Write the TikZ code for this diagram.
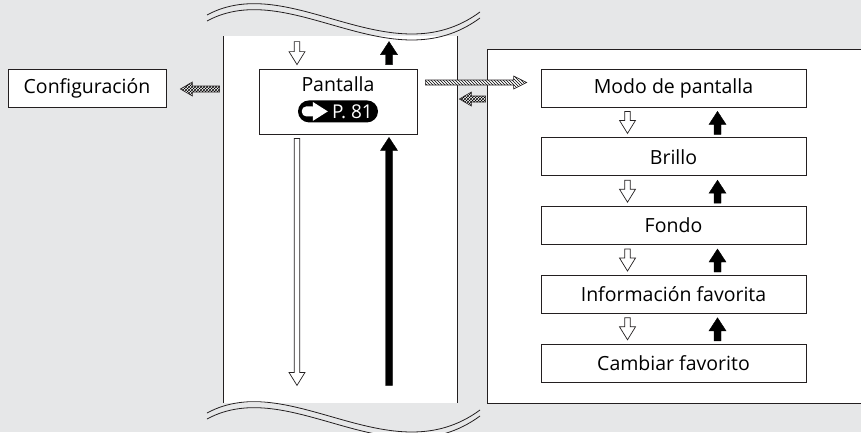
\documentclass[tikz,border=0pt]{standalone}
\usepackage{fontspec}
\setmainfont{Open Sans}
\usetikzlibrary{arrows.meta,positioning,calc,patterns}
\definecolor{bggray}{HTML}{E6E7E8}
\definecolor{linegray}{HTML}{231F20}
\tikzset{
  % cajas
  box/.style={draw=linegray,fill=white,line width=0.8pt,inner sep=0pt,
              minimum height=38pt,font=\fontsize{19.5}{23}\selectfont},
  menu/.style={box,minimum width=265pt},
  badge/.style={fill=black,text=white,rounded corners=11pt,inner sep=0pt,
                minimum width=80pt,minimum height=22pt,font=\fontsize{19}{22}\selectfont},
  panel/.style={draw=linegray,fill=white,line width=0.8pt},
  wave/.style={draw=linegray,line width=0.8pt},
  % flechas
  blk/.style args={#1/#2/#3}{to path={
     ($(\tikztostart)!#1!90:(\tikztotarget)$)
     -- ($(\tikztotarget)!#3!(\tikztostart)!#1!-90:(\tikztostart)$)
     -- ($(\tikztotarget)!#3!(\tikztostart)!#2!-90:(\tikztostart)$)
     -- (\tikztotarget)
     -- ($(\tikztotarget)!#3!(\tikztostart)!#2!90:(\tikztostart)$)
     -- ($(\tikztotarget)!#3!(\tikztostart)!#1!90:(\tikztostart)$)
     -- ($(\tikztostart)!#1!-90:(\tikztotarget)$) -- cycle}},
  wa/.style={blk=2.8pt/8pt/13pt,draw=linegray,fill=white,line width=0.7pt},
  ba/.style={blk=3.5pt/8.5pt/13pt,fill=black},
  ha/.style={blk=2.5pt/6.5pt/13pt,draw=linegray,line width=0.6pt,
             preaction={fill=white},pattern=north west lines},
  ca/.style={blk=3pt/7pt/12pt,draw=linegray,line width=0.6pt,
             preaction={fill=white},pattern=crosshatch},
}
\begin{document}
\begin{tikzpicture}[x=1pt,y=-1pt]
\useasboundingbox (0,0) rectangle (861,432);
\fill[bggray] (0,0) rectangle (861,432);
% paneles
\fill[white] (223,36) rectangle (457,403);
\draw[wave] (223,36) -- (223,403) (457,36) -- (457,403);
\draw[panel] (487,49) rectangle (880,403);
\foreach \dy in {0,6,398,404}
  \draw[wave] (207,15+\dy) .. controls (290,-30+\dy) and (390,78+\dy) .. (480,12+\dy);
% nodos
\node[box,minimum width=158pt] (conf) at (87,88) {Configuración};
\node[box,minimum width=158pt,minimum height=65pt] (pan) at (338,101.5) {};
\node[font=\fontsize{19.5}{23}\selectfont] (pantxt) at ([yshift=-16pt]pan.north) {Pantalla};
\node[badge] (pref) at ([yshift=23pt]pan.south) {\hspace*{29pt}P. 81};
\fill[white,rounded corners=4.5pt] ([xshift=4pt,yshift=5pt]pref.west) rectangle ([xshift=19pt,yshift=-5pt]pref.west);
\fill[white] ([xshift=15pt,yshift=9.5pt]pref.west) -- ([xshift=30pt]pref.west) -- ([xshift=15pt,yshift=-9.5pt]pref.west) -- cycle;
\node[menu] (mod) at (673.5,88) {Modo de pantalla};
\node[menu,below=30pt of mod] (bri) {Brillo};
\node[menu,below=30pt of bri] (fon) {Fondo};
\node[menu,below=30pt of fon] (inf) {Información favorita};
\node[menu,below=30pt of inf] (cam) {Cambiar favorito};
% flechas
\draw[wa] ([xshift=-41pt,yshift=27pt]pan.north) to ([xshift=-41pt,yshift=4pt]pan.north);
\draw[ba] ([xshift=51pt,yshift=4pt]pan.north) to ([xshift=51pt,yshift=27pt]pan.north);
\draw[wa] ([xshift=-41pt,yshift=-4pt]pan.south) to ([xshift=-41pt,yshift=-251pt]pan.south);
\draw[ba] ([xshift=51pt,yshift=-251pt]pan.south) to ([xshift=51pt,yshift=-3pt]pan.south);
\foreach \a/\b in {mod/bri,bri/fon,fon/inf,inf/cam}{
  \draw[wa] ([xshift=-46pt,yshift=-4pt]\a.south) to ([xshift=-46pt,yshift=4pt]\b.north);
  \draw[ba] ([xshift=44pt,yshift=3pt]\b.north) to ([xshift=44pt,yshift=-4pt]\a.south);
}
\draw[ha] ([xshift=8pt,yshift=19pt]pan.east) to ([xshift=-14pt,yshift=5.5pt]mod.west);
\draw[ca] ([xshift=-55pt,yshift=-11pt]mod.west) to ([xshift=42pt,yshift=2.5pt]pan.east);
\draw[ca] ([xshift=-39pt,yshift=12.5pt]pan.west) to ([xshift=14pt,yshift=-1pt]conf.east);
\end{tikzpicture}
\end{document}
